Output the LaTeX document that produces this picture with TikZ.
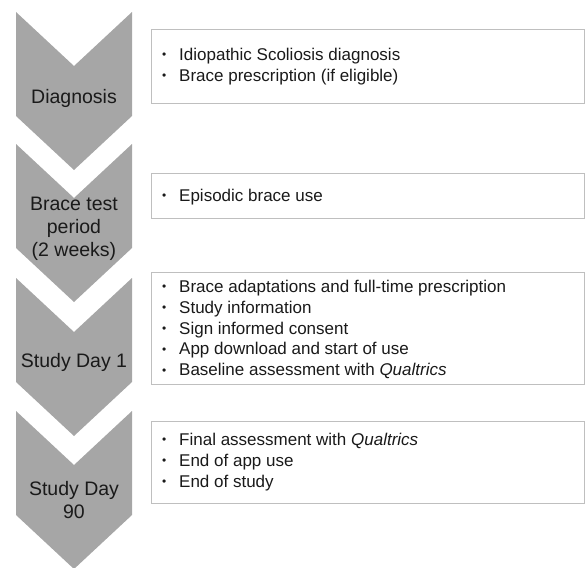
\documentclass[tikz,border=0pt]{standalone}
\usepackage{fontspec}
\setmainfont{Liberation Sans}
\usepackage{tikz}

\definecolor{chevgray}{HTML}{A6A6A6}
\definecolor{boxline}{HTML}{BFBFBF}
\definecolor{inktext}{HTML}{1A1A1A}
\tikzset{
  steplabel/.style={align=center, text=inktext, inner sep=0pt, font=\fontsize{19.5}{23}\selectfont},
  listbox/.style={draw=boxline, line width=1pt, fill=white, anchor=north west, inner sep=0pt},
  listtext/.style={align=left, anchor=north west, text=inktext, inner sep=0pt, font=\fontsize{17}{20.8}\selectfont}
}
\newcommand{\itm}{\makebox[17pt][l]{\raisebox{0.1em}{\scalebox{0.7}{\textbullet}}}}

\begin{document}
\begin{tikzpicture}[x=1pt,y=-1pt]
\useasboundingbox (0,0) rectangle (585,567);

% chevrons
\foreach \t in {12,144,278,411}
  \fill [chevgray] (16,\t) -- (74,\t+54) -- (132,\t) -- (132,\t+104) -- (74,\t+158) -- (16,\t+104) -- cycle;

\node [steplabel] (diag) at (74,98) {Diagnosis};
\node [steplabel] (test) at (74,229) {Brace test\\period\\(2 weeks)};
\node [steplabel] (day1) at (74,362) {Study Day 1};
\node [steplabel] (day90) at (74,500) {Study Day\\90};

% boxes
\node [listbox, minimum width=433pt, minimum height=74pt] (box1) at (151,29) {};
\node [listbox, minimum width=433pt, minimum height=45pt] (box2) at (151,173) {};
\node [listbox, minimum width=433pt, minimum height=112pt] (box3) at (151,272) {};
\node [listbox, minimum width=433pt, minimum height=82pt] (box4) at (151,421) {};

\node [listtext] (list1) at (162,48) {\itm Idiopathic Scoliosis diagnosis\\\itm Brace prescription (if eligible)};
\node [listtext] (list2) at (162,189) {\itm Episodic brace use};
\node [listtext] (list3) at (162,280) {\itm Brace adaptations and full-time prescription\\\itm Study information\\\itm Sign informed consent\\\itm App download and start of use\\\itm Baseline assessment with \textit{Qualtrics}};
\node [listtext] (list4) at (162,433) {\itm Final assessment with \textit{Qualtrics}\\\itm End of app use\\\itm End of study};

\end{tikzpicture}
\end{document}
